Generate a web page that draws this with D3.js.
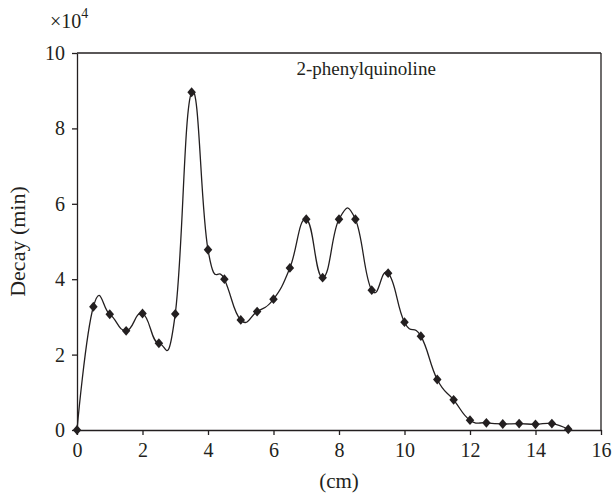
<!DOCTYPE html>
<html>
<head>
<meta charset="utf-8">
<script src="https://cdn.jsdelivr.net/npm/d3@7"></script>
<style>
  body { margin: 0; background: #fff; }
  svg text { font-family: "Liberation Serif", "DejaVu Serif", serif; fill: #231f20; }
  .axis path, .axis line { stroke: #231f20; stroke-width: 1.3px; }
</style>
</head>
<body>
<svg width="612" height="493"></svg>
<script>
// distance along the plate (cm)
var distance = [0, 0.5, 1, 1.5, 2, 2.5, 3, 3.5, 4, 4.5, 5, 5.5, 6, 6.5, 7, 7.5,
                8, 8.5, 9, 9.5, 10, 10.5, 11, 11.5, 12, 12.5, 13, 13.5, 14, 14.5, 15];
// decay, in units of 10^4 min
var decay = [0, 3.27, 3.07, 2.63, 3.09, 2.30, 3.08, 8.96, 4.78, 4.00, 2.92, 3.14, 3.47, 4.30, 5.59, 4.04,
             5.59, 5.59, 3.71, 4.16, 2.86, 2.49, 1.34, 0.80, 0.26, 0.19, 0.16, 0.17, 0.15, 0.17, 0.02];
var xTicks = [0, 2, 4, 6, 8, 10, 12, 14, 16];
var yTicks = [0, 2, 4, 6, 8, 10];
var seriesName = "2-phenylquinoline";

var points = distance.map(function(d, i) { return {x: d, y: decay[i]}; });

var svg = d3.select("svg"),
    margin = {top: 53, right: 11, bottom: 63, left: 77},
    width = 612 - margin.left - margin.right,
    height = 493 - margin.top - margin.bottom,
    g = svg.append("g").attr("transform", "translate(" + margin.left + "," + margin.top + ")");

var xScale = d3.scaleLinear().domain([0, 16]).range([0, width]),
    yScale = d3.scaleLinear().domain([0, 10]).range([height, 0]);

// frame on top and right
g.append("line").attr("x1", 0).attr("x2", width).attr("y1", 0).attr("y2", 0)
    .attr("stroke", "#231f20").attr("stroke-width", 1.3);
g.append("line").attr("x1", width).attr("x2", width).attr("y1", 0).attr("y2", height)
    .attr("stroke", "#231f20").attr("stroke-width", 1.3);

g.append("g")
    .attr("class", "axis")
    .attr("transform", "translate(0," + height + ")")
    .call(d3.axisBottom(xScale).tickValues(xTicks).tickSize(5).tickSizeOuter(0).tickPadding(8))
    .selectAll("text").style("font-size", "20px").attr("fill", "#231f20");

g.append("g")
    .attr("class", "axis")
    .call(d3.axisLeft(yScale).tickValues(yTicks).tickSize(5).tickSizeOuter(0).tickPadding(7))
    .selectAll("text").style("font-size", "20px").attr("fill", "#231f20");

var line = d3.line()
    .curve(d3.curveCardinal.tension(-0.4))
    .x(function(d) { return xScale(d.x); })
    .y(function(d) { return yScale(d.y); });

g.append("path")
    .datum(points)
    .attr("d", line)
    .attr("fill", "none")
    .attr("stroke", "#231f20")
    .attr("stroke-width", 1.3);

var diamond = d3.symbol().type(d3.symbolDiamond).size(28);
g.selectAll(".pt")
    .data(points)
    .enter().append("path")
    .attr("class", "pt")
    .attr("d", diamond)
    .attr("transform", function(d) { return "translate(" + xScale(d.x) + "," + yScale(d.y) + ") scale(1.5,1)"; })
    .attr("fill", "#231f20");

g.append("text")
    .attr("x", xScale(8.83))
    .attr("y", yScale(9.42))
    .attr("text-anchor", "middle")
    .style("font-size", "19px")
    .text(seriesName);

// axis titles
svg.append("text")
    .attr("x", margin.left + width / 2)
    .attr("y", 488)
    .attr("text-anchor", "middle")
    .style("font-size", "21px")
    .text("(cm)");

svg.append("text")
    .attr("transform", "translate(25," + (margin.top + height / 2) + ") rotate(-90)")
    .attr("text-anchor", "middle")
    .style("font-size", "22px")
    .text("Decay (min)");

var mult = svg.append("text").attr("x", 50).attr("y", 28).style("font-size", "20px");
mult.append("tspan").text("\u00d710");
mult.append("tspan").attr("dy", -10).style("font-size", "14px").text("4");
</script>
</body>
</html>
